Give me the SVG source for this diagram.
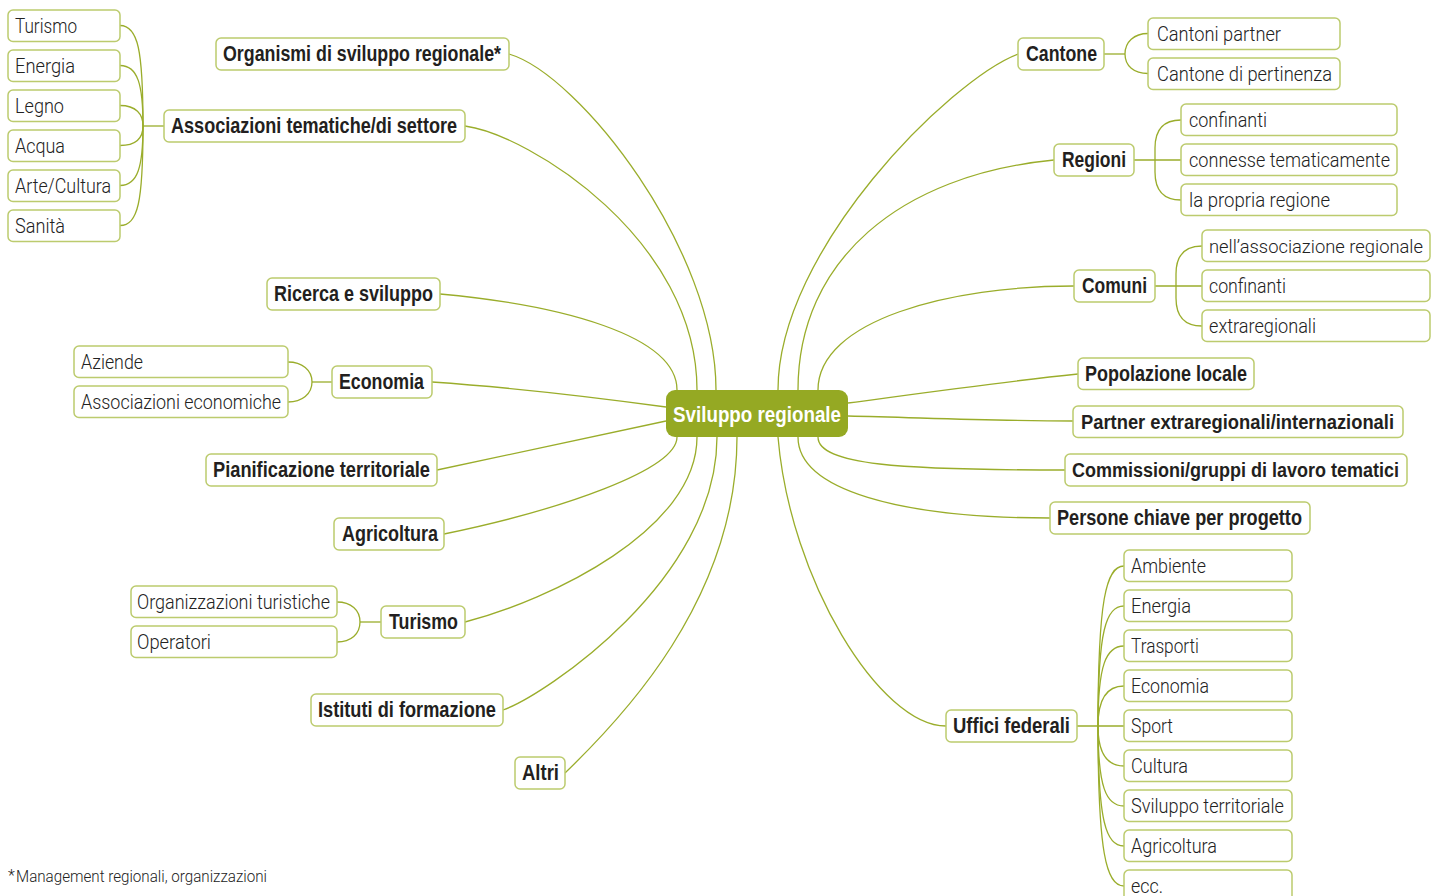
<svg xmlns="http://www.w3.org/2000/svg" width="1440" height="896" viewBox="0 0 1440 896">
<style>
.e{fill:none;stroke:#9aad2b;stroke-width:1.3}
.b{fill:#fff;stroke:#bccb6e;stroke-width:1.5}
.c{fill:#95a923;stroke:none}
.tb{font-family:"Liberation Sans",Arial,sans-serif;font-weight:bold;font-size:22px;fill:#231f20}
.tl{font-family:Roboto,"Liberation Sans",Arial,sans-serif;font-weight:300;font-size:21px;fill:#222}
.tc{font-family:"Liberation Sans",Arial,sans-serif;font-weight:bold;font-size:22px;fill:#fff}
.fn{font-family:Roboto,"Liberation Sans",Arial,sans-serif;font-weight:300;font-size:16px;fill:#222}
.s19{font-size:19px}
.s20{font-size:20px}
</style>
<rect width="1440" height="896" fill="#fff"/>
<g id="connectors">
<path class="e" d="M509,54 C580,75 716,250 716,390"/>
<path class="e" d="M465,126 C530,135 697,240 697,390"/>
<path class="e" d="M440,294 C560,305 677,335 677,390"/>
<path class="e" d="M432,382 C520,388 600,398 666,407"/>
<path class="e" d="M437,470 L666,421"/>
<path class="e" d="M444,534 C560,510 677,470 677,437"/>
<path class="e" d="M465,622 C550,600 697,530 697,437"/>
<path class="e" d="M503,710 C545,695 717,580 717,437"/>
<path class="e" d="M565,773 C620,720 737,600 737,437"/>
<path class="e" d="M778,390 C778,250 950,80 1018,54"/>
<path class="e" d="M798,390 C798,260 900,175 1054,160"/>
<path class="e" d="M818,390 C818,320 950,286 1074,286"/>
<path class="e" d="M848,403 C930,392 1000,382 1078,374"/>
<path class="e" d="M848,416 C930,418 1000,421 1073,421"/>
<path class="e" d="M818,437 C818,465 900,470 1065,470"/>
<path class="e" d="M798,437 C798,490 900,518 1050,518"/>
<path class="e" d="M778,437 C790,580 880,726 946,726"/>
<path class="e" d="M164,126 L143,126"/>
<path class="e" d="M120,25.5 C138,25.5 143,50 143,126"/>
<path class="e" d="M120,65.5 C138,65.5 143,85 143,126"/>
<path class="e" d="M120,105.5 C136,105.5 143,114 143,126"/>
<path class="e" d="M120,145.5 C136,145.5 143,138 143,126"/>
<path class="e" d="M120,185.5 C138,185.5 143,166 143,126"/>
<path class="e" d="M120,225.5 C138,225.5 143,202 143,126"/>
<path class="e" d="M332,382 L312,382"/>
<path class="e" d="M288,362 C302,362 312,370 312,382 C312,394 302,402 288,402"/>
<path class="e" d="M381,622 L360,622"/>
<path class="e" d="M337,602 C351,602 360,610 360,622 C360,634 351,642 337,642"/>
<path class="e" d="M1104,54 L1125,54"/>
<path class="e" d="M1148,33.5 C1134,33.5 1125,42 1125,54 C1125,66 1134,73.5 1148,73.5"/>
<path class="e" d="M1134,160 L1181,160"/>
<path class="e" d="M1181,120 C1163,120 1155,130 1155,148 L1155,172 C1155,190 1163,200 1181,200"/>
<path class="e" d="M1155,286 L1202,286"/>
<path class="e" d="M1202,246 C1184,246 1176,256 1176,274 L1176,298 C1176,316 1184,326 1202,326"/>
<path class="e" d="M1077,726 L1124,726"/>
<path class="e" d="M1124,566 C1106,566 1098,600 1098,726"/>
<path class="e" d="M1124,606 C1106,606 1098,630 1098,726"/>
<path class="e" d="M1124,646 C1106,646 1098,665 1098,726"/>
<path class="e" d="M1124,686 C1106,686 1098,700 1098,726"/>
<path class="e" d="M1124,766 C1106,766 1098,752 1098,726"/>
<path class="e" d="M1124,806 C1106,806 1098,787 1098,726"/>
<path class="e" d="M1124,846 C1106,846 1098,822 1098,726"/>
<path class="e" d="M1124,886 C1106,886 1098,852 1098,726"/>
</g>
<g id="center"><rect class="c" x="666" y="390" width="182" height="47" rx="9"/><text class="tc" x="673" y="422" textLength="168" lengthAdjust="spacingAndGlyphs">Sviluppo regionale</text></g>
<g id="n-organismi"><rect class="b" x="216" y="38" width="293" height="32" rx="5"/><text class="tb" x="223" y="61" textLength="278" lengthAdjust="spacingAndGlyphs">Organismi di sviluppo regionale*</text></g>
<g id="n-assoc"><rect class="b" x="164" y="110" width="301" height="32" rx="5"/><text class="tb" x="171" y="133" textLength="286" lengthAdjust="spacingAndGlyphs">Associazioni tematiche/di settore</text></g>
<g id="l-turismo"><rect class="b" x="8" y="10" width="112" height="31.5" rx="5"/><text class="tl" x="15" y="33" textLength="62" lengthAdjust="spacingAndGlyphs">Turismo</text></g>
<g id="l-energia"><rect class="b" x="8" y="50" width="112" height="31.5" rx="5"/><text class="tl" x="15" y="73" textLength="60" lengthAdjust="spacingAndGlyphs">Energia</text></g>
<g id="l-legno"><rect class="b" x="8" y="90" width="112" height="31.5" rx="5"/><text class="tl" x="15" y="113" textLength="49" lengthAdjust="spacingAndGlyphs">Legno</text></g>
<g id="l-acqua"><rect class="b" x="8" y="130" width="112" height="31.5" rx="5"/><text class="tl" x="15" y="153" textLength="50" lengthAdjust="spacingAndGlyphs">Acqua</text></g>
<g id="l-arte"><rect class="b" x="8" y="170" width="112" height="31.5" rx="5"/><text class="tl" x="15" y="193" textLength="96" lengthAdjust="spacingAndGlyphs">Arte/Cultura</text></g>
<g id="l-sanita"><rect class="b" x="8" y="210" width="112" height="31.5" rx="5"/><text class="tl" x="15" y="233" textLength="50" lengthAdjust="spacingAndGlyphs">Sanità</text></g>
<g id="n-ricerca"><rect class="b" x="267" y="278" width="173" height="32" rx="5"/><text class="tb" x="274" y="301" textLength="159" lengthAdjust="spacingAndGlyphs">Ricerca e sviluppo</text></g>
<g id="n-economia"><rect class="b" x="332" y="366" width="100" height="32" rx="5"/><text class="tb" x="339" y="389" textLength="85" lengthAdjust="spacingAndGlyphs">Economia</text></g>
<g id="l-aziende"><rect class="b" x="74" y="346" width="214" height="31.5" rx="5"/><text class="tl" x="81" y="369" textLength="62" lengthAdjust="spacingAndGlyphs">Aziende</text></g>
<g id="l-asseco"><rect class="b" x="74" y="386" width="214" height="31.5" rx="5"/><text class="tl" x="81" y="409" textLength="200" lengthAdjust="spacingAndGlyphs">Associazioni economiche</text></g>
<g id="n-pianif"><rect class="b" x="206" y="454" width="231" height="32" rx="5"/><text class="tb" x="213" y="477" textLength="217" lengthAdjust="spacingAndGlyphs">Pianificazione territoriale</text></g>
<g id="n-agricoltura"><rect class="b" x="334" y="518" width="110" height="32" rx="5"/><text class="tb" x="342" y="541" textLength="96" lengthAdjust="spacingAndGlyphs">Agricoltura</text></g>
<g id="n-turismo"><rect class="b" x="381" y="606" width="84" height="32" rx="5"/><text class="tb" x="389" y="629" textLength="69" lengthAdjust="spacingAndGlyphs">Turismo</text></g>
<g id="l-orgtur"><rect class="b" x="131" y="586" width="206" height="31.5" rx="5"/><text class="tl" x="137" y="609" textLength="193" lengthAdjust="spacingAndGlyphs">Organizzazioni turistiche</text></g>
<g id="l-operatori"><rect class="b" x="131" y="626" width="206" height="31.5" rx="5"/><text class="tl" x="137" y="649" textLength="74" lengthAdjust="spacingAndGlyphs">Operatori</text></g>
<g id="n-istituti"><rect class="b" x="311" y="694" width="192" height="32" rx="5"/><text class="tb" x="318" y="717" textLength="178" lengthAdjust="spacingAndGlyphs">Istituti di formazione</text></g>
<g id="n-altri"><rect class="b" x="515" y="757" width="50" height="32" rx="5"/><text class="tb" x="522" y="780" textLength="37" lengthAdjust="spacingAndGlyphs">Altri</text></g>
<g id="n-cantone"><rect class="b" x="1018" y="38" width="86" height="32" rx="5"/><text class="tb" x="1026" y="61" textLength="71" lengthAdjust="spacingAndGlyphs">Cantone</text></g>
<g id="l-cantpartner"><rect class="b" x="1148" y="18" width="192" height="31.5" rx="5"/><text class="tl" x="1157" y="41" textLength="124" lengthAdjust="spacingAndGlyphs">Cantoni partner</text></g>
<g id="l-cantpert"><rect class="b" x="1148" y="58" width="192" height="31.5" rx="5"/><text class="tl" x="1157" y="81" textLength="175" lengthAdjust="spacingAndGlyphs">Cantone di pertinenza</text></g>
<g id="n-regioni"><rect class="b" x="1054" y="144" width="80" height="32" rx="5"/><text class="tb" x="1062" y="167" textLength="64" lengthAdjust="spacingAndGlyphs">Regioni</text></g>
<g id="l-reg-conf"><rect class="b" x="1181" y="104" width="216" height="31.5" rx="5"/><text class="tl" x="1189" y="127" textLength="78" lengthAdjust="spacingAndGlyphs">confinanti</text></g>
<g id="l-reg-conn"><rect class="b" x="1181" y="144" width="216" height="31.5" rx="5"/><text class="tl" x="1189" y="167" textLength="201" lengthAdjust="spacingAndGlyphs">connesse tematicamente</text></g>
<g id="l-reg-prop"><rect class="b" x="1181" y="184" width="216" height="31.5" rx="5"/><text class="tl" x="1189" y="207" textLength="141" lengthAdjust="spacingAndGlyphs">la propria regione</text></g>
<g id="n-comuni"><rect class="b" x="1074" y="270" width="81" height="32" rx="5"/><text class="tb" x="1082" y="293" textLength="65" lengthAdjust="spacingAndGlyphs">Comuni</text></g>
<g id="l-com-ass"><rect class="b" x="1202" y="230" width="228" height="31.5" rx="5"/><text class="tl s19" x="1209" y="253" textLength="214" lengthAdjust="spacingAndGlyphs">nell’associazione regionale</text></g>
<g id="l-com-conf"><rect class="b" x="1202" y="270" width="228" height="31.5" rx="5"/><text class="tl" x="1209" y="293" textLength="77" lengthAdjust="spacingAndGlyphs">confinanti</text></g>
<g id="l-com-extra"><rect class="b" x="1202" y="310" width="228" height="31.5" rx="5"/><text class="tl" x="1209" y="333" textLength="107" lengthAdjust="spacingAndGlyphs">extraregionali</text></g>
<g id="n-popolazione"><rect class="b" x="1078" y="358" width="176" height="31.5" rx="5"/><text class="tb" x="1085" y="381" textLength="162" lengthAdjust="spacingAndGlyphs">Popolazione locale</text></g>
<g id="n-partner"><rect class="b" x="1073" y="406" width="330" height="31.5" rx="5"/><text class="tb s20" x="1081" y="429" textLength="313" lengthAdjust="spacingAndGlyphs">Partner extraregionali/internazionali</text></g>
<g id="n-commissioni"><rect class="b" x="1065" y="454" width="342" height="32" rx="5"/><text class="tb s20" x="1072" y="477" textLength="327" lengthAdjust="spacingAndGlyphs">Commissioni/gruppi di lavoro tematici</text></g>
<g id="n-persone"><rect class="b" x="1050" y="502" width="260" height="32" rx="5"/><text class="tb" x="1057" y="525" textLength="245" lengthAdjust="spacingAndGlyphs">Persone chiave per progetto</text></g>
<g id="n-uffici"><rect class="b" x="946" y="710" width="131" height="32" rx="5"/><text class="tb" x="953" y="733" textLength="117" lengthAdjust="spacingAndGlyphs">Uffici federali</text></g>
<g id="l-ambiente"><rect class="b" x="1124" y="550" width="168" height="31.5" rx="5"/><text class="tl" x="1131" y="573" textLength="75" lengthAdjust="spacingAndGlyphs">Ambiente</text></g>
<g id="l-energia2"><rect class="b" x="1124" y="590" width="168" height="31.5" rx="5"/><text class="tl" x="1131" y="613" textLength="60" lengthAdjust="spacingAndGlyphs">Energia</text></g>
<g id="l-trasporti"><rect class="b" x="1124" y="630" width="168" height="31.5" rx="5"/><text class="tl" x="1131" y="653" textLength="68" lengthAdjust="spacingAndGlyphs">Trasporti</text></g>
<g id="l-economia2"><rect class="b" x="1124" y="670" width="168" height="31.5" rx="5"/><text class="tl" x="1131" y="693" textLength="78" lengthAdjust="spacingAndGlyphs">Economia</text></g>
<g id="l-sport"><rect class="b" x="1124" y="710" width="168" height="31.5" rx="5"/><text class="tl" x="1131" y="733" textLength="42" lengthAdjust="spacingAndGlyphs">Sport</text></g>
<g id="l-cultura"><rect class="b" x="1124" y="750" width="168" height="31.5" rx="5"/><text class="tl" x="1131" y="773" textLength="57" lengthAdjust="spacingAndGlyphs">Cultura</text></g>
<g id="l-svter"><rect class="b" x="1124" y="790" width="168" height="31.5" rx="5"/><text class="tl" x="1131" y="813" textLength="153" lengthAdjust="spacingAndGlyphs">Sviluppo territoriale</text></g>
<g id="l-agricoltura2"><rect class="b" x="1124" y="830" width="168" height="31.5" rx="5"/><text class="tl" x="1131" y="853" textLength="86" lengthAdjust="spacingAndGlyphs">Agricoltura</text></g>
<g id="l-ecc"><rect class="b" x="1124" y="870" width="168" height="31.5" rx="5"/><text class="tl" x="1131" y="893" textLength="32" lengthAdjust="spacingAndGlyphs">ecc.</text></g>
<g id="footnote"><text class="fn" x="8" y="881">*</text><text class="fn" x="16" y="882" textLength="251" lengthAdjust="spacingAndGlyphs">Management regionali, organizzazioni</text></g>
</svg>
